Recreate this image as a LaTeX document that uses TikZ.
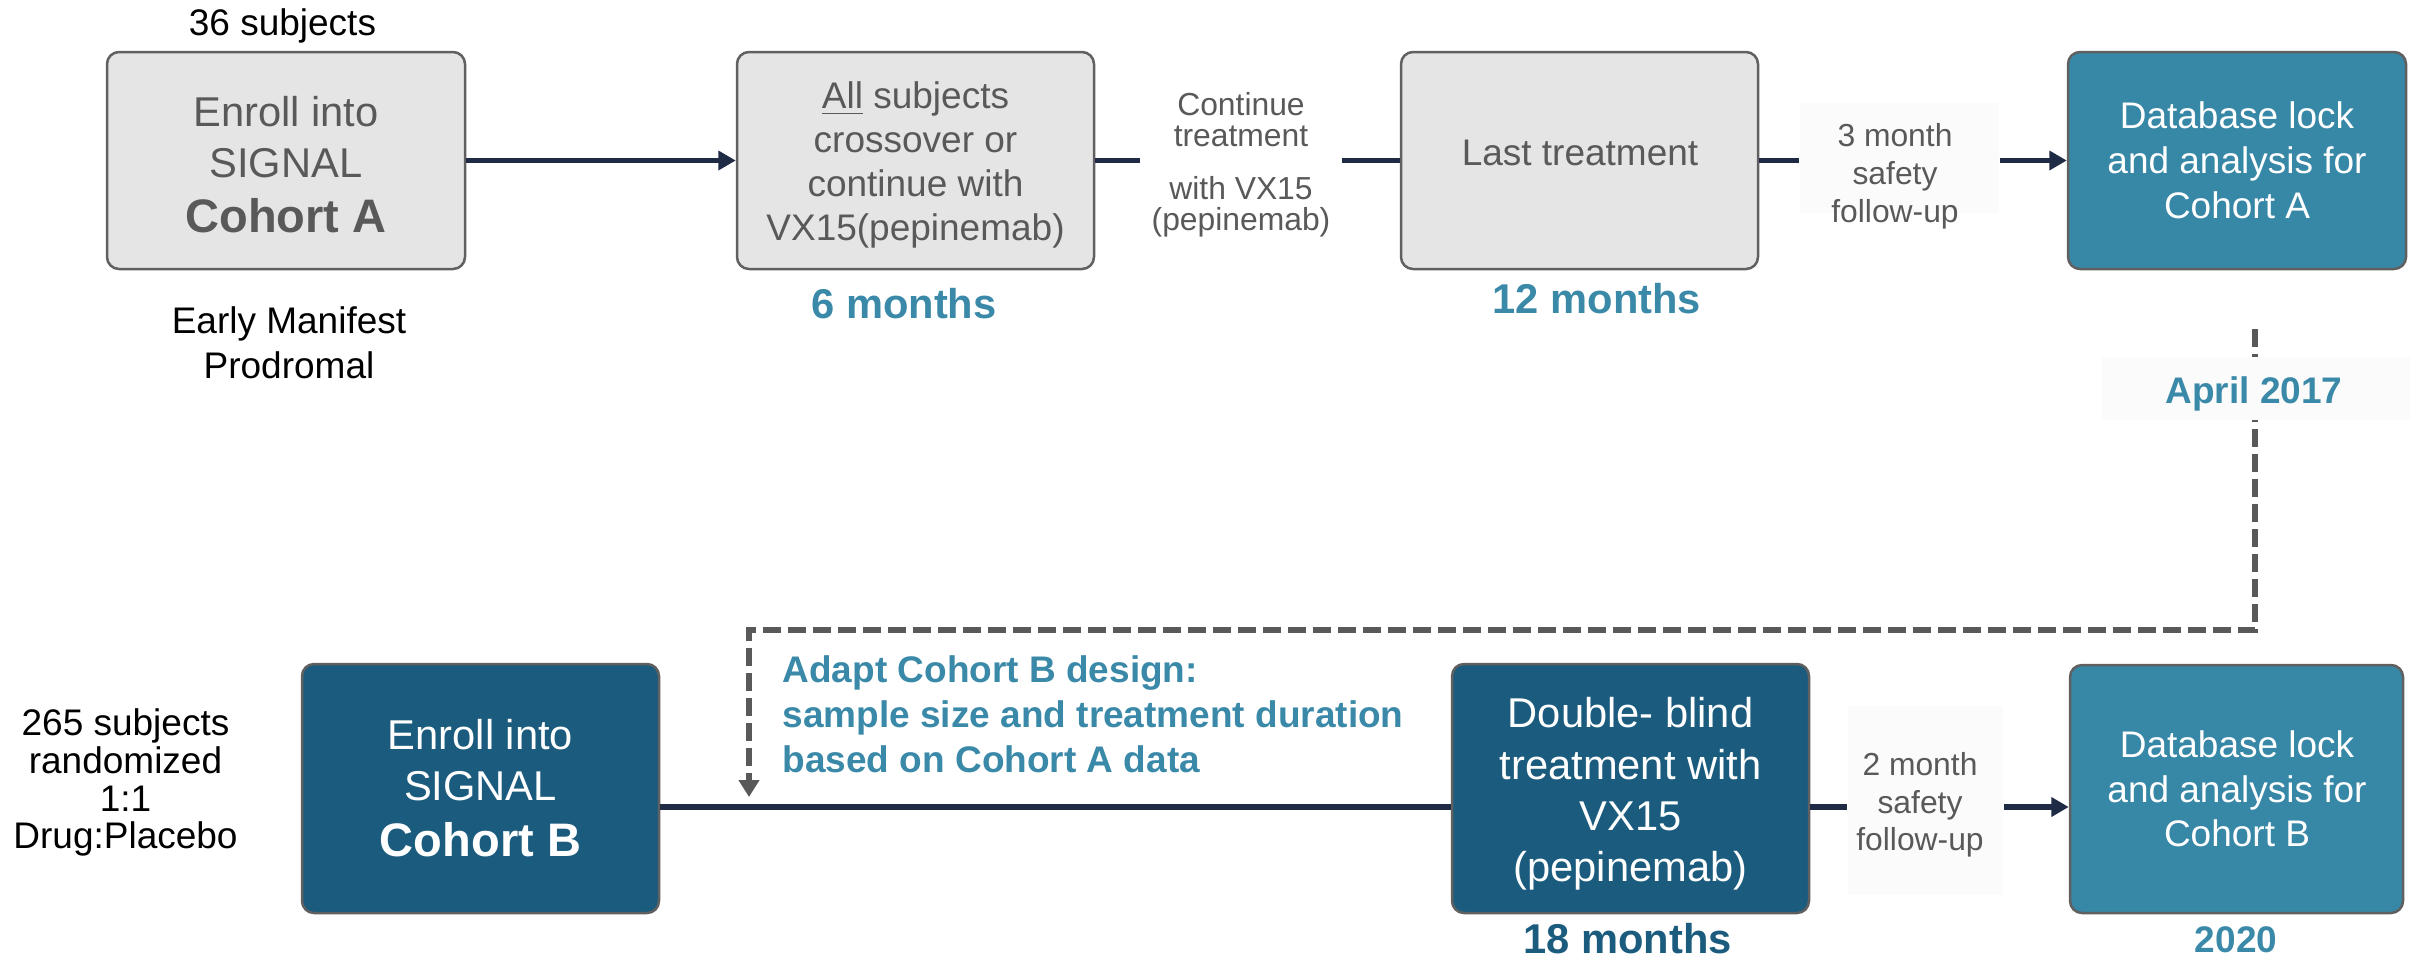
\documentclass[tikz,border=0pt]{standalone}
\usepackage{fontspec}
\setmainfont{Liberation Sans}
\usetikzlibrary{arrows.meta}
\definecolor{boxgray}{HTML}{E5E5E5}
\definecolor{bordergray}{HTML}{606060}
\definecolor{textgray}{HTML}{595959}
\definecolor{tealc}{HTML}{3787A6}
\definecolor{tealtext}{HTML}{3A89A8}
\definecolor{darkc}{HTML}{1B5C7E}
\definecolor{navy}{HTML}{1F2A44}
\definecolor{dgray}{HTML}{595959}
\definecolor{faintc}{HTML}{FBFBFB}
\tikzset{
  boxbase/.style={draw=bordergray, line width=0.75pt, rounded corners=3.6pt, inner sep=0pt},
  gbox/.style={boxbase, fill=boxgray},
  tbox/.style={boxbase, fill=tealc},
  dbox/.style={boxbase, fill=darkc},
  txt/.style={inner sep=0pt, align=center, anchor=north},
  stxt/.style={inner sep=0pt, anchor=base},
  conn/.style={draw=navy, line width=1.7pt},
  arr/.style={conn, -{Triangle[width=5.6pt,length=5.2pt]}},
  dashc/.style={draw=dgray, line width=1.7pt, dash pattern=on 5.3pt off 2.2pt},
  faint/.style={fill=faintc, draw=none, inner sep=0pt},
}
\begin{document}
\begin{tikzpicture}[x=0.3pt,y=-0.3pt]
\useasboundingbox (0,0) rectangle (2415,960);

% ---------- faint label backgrounds
\node[faint, minimum width=59.7pt, minimum height=33pt] (fb1) at (1899.5,158) {};
\node[faint, minimum width=46.5pt, minimum height=56.7pt] (fb2) at (1925.5,800.5) {};

% ---------- row A boxes
\node[gbox, minimum width=107.4pt, minimum height=65.1pt] (A1) at (286,160.5) {};
\node[gbox, minimum width=107.1pt, minimum height=65.1pt] (A2) at (915.5,160.5) {};
\node[gbox, minimum width=107.1pt, minimum height=65.1pt] (A3) at (1579.5,160.5) {};
\node[tbox, minimum width=101.4pt, minimum height=65.1pt] (A4) at (2237,160.5) {};

% ---------- row B boxes
\node[dbox, minimum width=107.1pt, minimum height=74.7pt] (B1) at (480.5,788.5) {};
\node[dbox, minimum width=107.1pt, minimum height=74.7pt] (B2) at (1630.5,788.5) {};
\node[tbox, minimum width=99.9pt, minimum height=74.4pt] (B3) at (2236.5,789) {};

% ---------- row A texts
\node[stxt, font=\fontsize{11.1pt}{13.3pt}\selectfont] (n36) at (282.5,35) {36 subjects};
\node[txt, text=textgray, font=\fontsize{12.5pt}{15.3pt}\selectfont] (A1t) at (286,92.67)
  {\rule{0pt}{10pt}Enroll into\\SIGNAL\\[1.2pt]{\fontsize{14.1pt}{16.5pt}\selectfont\bfseries Cohort A}};
\node[txt, font=\fontsize{11.1pt}{13.5pt}\selectfont] (nEM) at (289,303)
  {\rule{0pt}{9pt}Early Manifest\\Prodromal};
\node[txt, text=textgray, font=\fontsize{11.1pt}{13.2pt}\selectfont] (A2t) at (915.5,78)
  {\rule{0pt}{9pt}\underline{All} subjects\\crossover or\\continue with\\VX15(pepinemab)};
\node[stxt, text=tealtext, font=\fontsize{12.5pt}{15pt}\selectfont\bfseries] (n6m) at (904,318) {6 months};
\node[txt, text=textgray, minimum width=60pt, font=\fontsize{9.55pt}{9.3pt}\selectfont] (cont) at (1241,88.33)
  {\rule{0pt}{8pt}Continue\\treatment\\[6.6pt]with VX15\\(pepinemab)};
\node[stxt, text=textgray, font=\fontsize{11.1pt}{13.3pt}\selectfont] (A3t) at (1580,165) {Last treatment};
\node[stxt, text=tealtext, font=\fontsize{12.5pt}{15pt}\selectfont\bfseries] (n12m) at (1597,313) {12 months};
\node[txt, text=textgray, font=\fontsize{9.55pt}{11.4pt}\selectfont] (t3m) at (1895,119.33)
  {\rule{0pt}{8pt}3 month\\safety\\follow-up};
\node[txt, text=white, font=\fontsize{11.1pt}{13.5pt}\selectfont] (A4t) at (2237,98)
  {\rule{0pt}{9pt}Database lock\\and analysis for\\Cohort A};

% ---------- row B texts
\node[txt, font=\fontsize{11.1pt}{11.3pt}\selectfont] (t265) at (125.5,705)
  {\rule{0pt}{9pt}265 subjects\\randomized\\1:1\\Drug:Placebo};
\node[txt, text=white, font=\fontsize{12.5pt}{15.3pt}\selectfont] (B1t) at (480.5,715.67)
  {\rule{0pt}{10pt}Enroll into\\SIGNAL\\[1.5pt]{\fontsize{14.1pt}{16.5pt}\selectfont\bfseries Cohort B}};
\node[txt, anchor=north west, align=left, text=tealtext, font=\fontsize{11.1pt}{13.5pt}\selectfont\bfseries] (adapt) at (782,652)
  {\rule{0pt}{9pt}Adapt Cohort B design:\\sample size and treatment duration\\based on Cohort A data};
\node[txt, text=white, font=\fontsize{12.5pt}{15.4pt}\selectfont] (B2t) at (1630.5,693.67)
  {\rule{0pt}{10pt}Double- blind\\treatment with\\VX15\\(pepinemab)};
\node[stxt, text=darkc, font=\fontsize{12.5pt}{15pt}\selectfont\bfseries] (n18m) at (1627.5,953) {18 months};
\node[txt, text=textgray, font=\fontsize{9.55pt}{11.25pt}\selectfont] (t2m) at (1920,748.33)
  {\rule{0pt}{8pt}2 month\\safety\\follow-up};
\node[txt, text=white, font=\fontsize{11.1pt}{13.35pt}\selectfont] (B3t) at (2237,727)
  {\rule{0pt}{9pt}Database lock\\and analysis for\\Cohort B};
\node[stxt, text=tealtext, font=\fontsize{11.1pt}{13.3pt}\selectfont\bfseries] (n2020) at (2236,952) {2020};

% ---------- row A connectors
\draw[arr] (A1.east) -- (A2.west);
\draw[conn] (A2.east) -- (A2.east -| cont.west);
\draw[conn] (cont.east |- A3.west) -- (A3.west);
\draw[conn] (A3.east) -- (A3.east -| fb1.west);
\draw[arr] (fb1.east |- A4.west) -- (A4.west);

% ---------- row B connectors
\coordinate (yB) at (0,807);
\draw[conn] (B1.east |- yB) -- (B2.west |- yB);
\draw[conn] (B2.east |- yB) -- (fb2.west |- yB);
\draw[arr] (fb2.east |- yB) -- (B3.west |- yB);

% ---------- dashed feedback connector
\coordinate (d0) at (2255,329);
\coordinate (d1) at (749,797);
\coordinate (dc) at (0,630);
\draw[dashc, -{Triangle[width=6pt,length=5.1pt]}] (d0) -- (d0 |- dc) -- (d1 |- dc) -- (d1);

% ---------- April label over the dashed line
\node[faint, minimum width=92.4pt, minimum height=18.9pt] (fapr) at (2256,388.5) {};
\node[stxt, text=tealtext, font=\fontsize{11.1pt}{13.3pt}\selectfont\bfseries] (apr) at (2254,403) {April 2017};
\end{tikzpicture}
\end{document}
